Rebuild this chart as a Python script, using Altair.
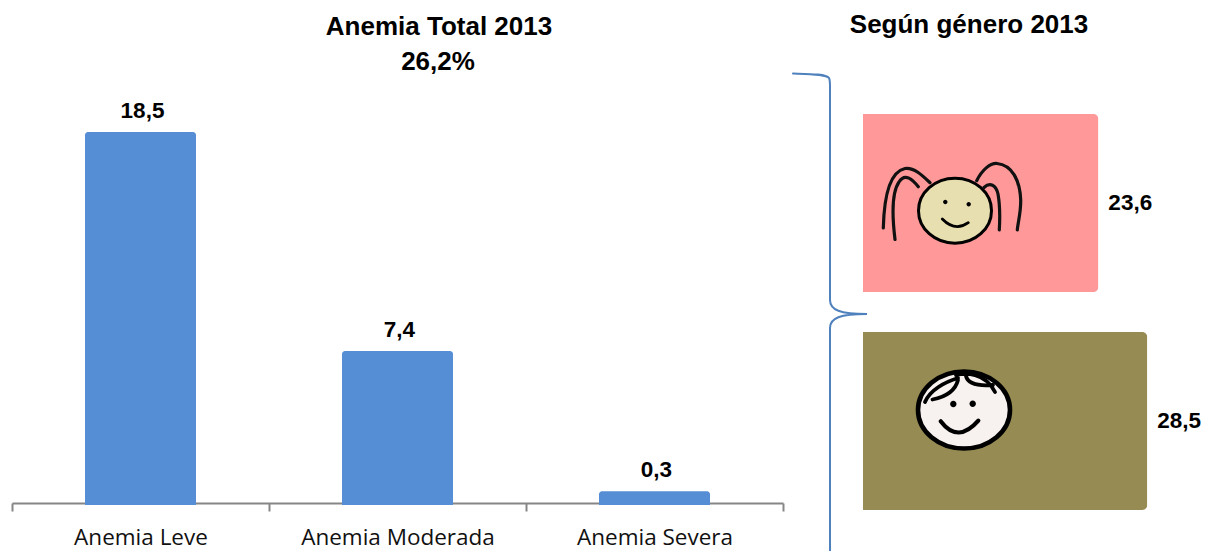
import altair as alt
import pandas as pd

categories = ["Anemia Leve", "Anemia Moderada", "Anemia Severa"]
values = [18.5, 7.4, 0.3]
genders = ["Niña", "Niño"]
gender_values = [23.6, 28.5]
gender_colors = ["#FF9999", "#968B53"]
axis_floor = -0.4


def comma(v):
    return f"{v:.1f}".replace(".", ",")


W, H = 1195, 543
BOLD = "Liberation Sans"
LABEL = "Open Sans"

left = pd.DataFrame({"cat": categories, "v": values, "floor": [axis_floor] * 3,
                     "label": [comma(v) for v in values]})
right = pd.DataFrame({"g": genders, "v": gender_values, "color": gender_colors,
                      "label": [comma(v) for v in gender_values]})

x_scale = alt.Scale(type="band", domain=categories, range=[4, 775], paddingInner=0, paddingOuter=0)
y_l = alt.Y("v:Q", axis=None, scale=alt.Scale(domain=[axis_floor, 20], range=[497, 94.4]))

bars_l = alt.Chart(left).mark_bar(color="#558ED5", size=111, cornerRadiusTopLeft=3, cornerRadiusTopRight=3, clip=False).encode(
    x=alt.X("cat:N", sort=categories, title=None, scale=x_scale,
            axis=alt.Axis(tickBand="extent", domainColor="#868686", tickColor="#868686", domainWidth=2, tickWidth=2,
                          tickSize=8, labelAngle=0, labelFont=LABEL, labelFontSize=22.5, labelColor="#111111",
                          labelPadding=15, labelLimit=300, offset=-48, grid=False)),
    y=y_l, y2="floor:Q")

text_l = alt.Chart(left).mark_text(font=BOLD, fontWeight="bold", fontSize=22.5, baseline="bottom", dx=2, dy=-9, color="black").encode(
    x=alt.X("cat:N", sort=categories, axis=None, scale=x_scale),
    y=y_l, text="label:N")

x_r = alt.Scale(domain=[0, 30], range=[855, 1154.2])
y_r = alt.Scale(type="band", domain=genders, range=[106, 502], paddingInner=0.1835, paddingOuter=0)

bars_r = alt.Chart(right).mark_bar(cornerRadiusTopRight=5, cornerRadiusBottomRight=5).encode(
    x=alt.X("v:Q", axis=None, scale=x_r),
    y=alt.Y("g:N", axis=None, sort=genders, scale=y_r),
    color=alt.Color("color:N", scale=None, legend=None))

text_r = alt.Chart(right).mark_text(font=BOLD, fontWeight="bold", fontSize=22.5, align="left", dx=10, color="black").encode(
    x=alt.X("v:Q", axis=None, scale=x_r),
    y=alt.Y("g:N", axis=None, sort=genders, scale=y_r),
    text="label:N")


def title(txt, x, y):
    return alt.Chart(pd.DataFrame({"t": [txt]})).mark_text(
        font=BOLD, fontWeight="bold", fontSize=26, baseline="alphabetic", color="black").encode(
        x=alt.value(x), y=alt.value(y), text="t:N")


def glyph(path, stroke=None, width=2, fill=None):
    # vector decoration: path in page pixels, unit scale at size 4
    kw = {"shape": path, "size": 4, "filled": fill is not None, "opacity": 1}
    if fill is not None:
        kw["fill"] = fill
        kw["strokeWidth"] = 0
    else:
        kw["stroke"] = stroke
        kw["strokeWidth"] = width
        kw["strokeCap"] = "round"
        kw["fillOpacity"] = 0
    return alt.Chart(pd.DataFrame({"a": [0]})).mark_point(**kw).encode(x=alt.value(-8), y=alt.value(-8))


def ellipse(cx, cy, rx, ry):
    return f"M{cx-rx},{cy}A{rx},{ry},0,1,0,{cx+rx},{cy}A{rx},{ry},0,1,0,{cx-rx},{cy}Z"


brace = ("M793,73.5C810,74,826,74,829,78C830,80,830,82,830,86L830,300C830,310,840,314,867,314"
         "C840,314,830,318,830,328L830,560")

girl_hair = ("M883.3,228C884,200,889,172,905,168.5C914,167,923,176,930,182.7"
             "M895,239.5C892,215,892,192,899,182C905,172,913,180,918.3,186.7"
             "M976.7,180.7C982,170,990,163,997,163.5C1012,165,1020,180,1020.7,200C1021,212,1018,222,1017.3,230"
             "M984,187.5C990,182,996,185,998,194C1000,205,1000,218,999.3,230")
girl_mouth = "M942.3,219Q955,232,968.3,222.7"
boy_hair = ("M932.5,399.5C945,397,955,392,958,380M956,375C965,373,985,372,995,392"
            "M966,376C968,385,980,386,993,385M925,402C930,390,945,382,958,378")
boy_mouth = "M940.7,421.3Q958,444,978.3,420.7"

layers = [
    bars_l, text_l, bars_r, text_r,
    title("Anemia Total 2013", 431, 27), title("26,2%", 430, 62), title("Según género 2013", 961, 25),
    glyph(brace, stroke="#4F81BD", width=2),
    glyph(ellipse(955, 210.7, 36.5, 32.5), fill="#E8DFB0"),
    glyph(ellipse(955, 210.7, 36.5, 32.5), stroke="black", width=3),
    glyph(girl_hair, stroke="#111111", width=3.2),
    glyph(ellipse(945.3, 202, 2.2, 2.2), fill="black"),
    glyph(ellipse(968.7, 204.3, 2.2, 2.2), fill="black"),
    glyph(girl_mouth, stroke="black", width=2.8),
    glyph(ellipse(964, 410, 46, 38.5), fill="#F7F1EF"),
    glyph(ellipse(964, 410, 46, 38.5), stroke="black", width=4.6),
    glyph(boy_hair, stroke="black", width=3.8),
    glyph(ellipse(953.3, 404, 3.2, 3.2), fill="black"),
    glyph(ellipse(972.7, 403.7, 3.2, 3.2), fill="black"),
    glyph(boy_mouth, stroke="black", width=4.2),
]

chart = alt.layer(*layers).resolve_scale(
    x="independent", y="independent", color="independent").properties(
    width=W, height=H, padding=0, autosize=alt.AutoSizeParams(type="none"), background="white"
).configure_view(stroke=None)

chart.save("out.html", embed_options={"renderer": "svg", "actions": False})
